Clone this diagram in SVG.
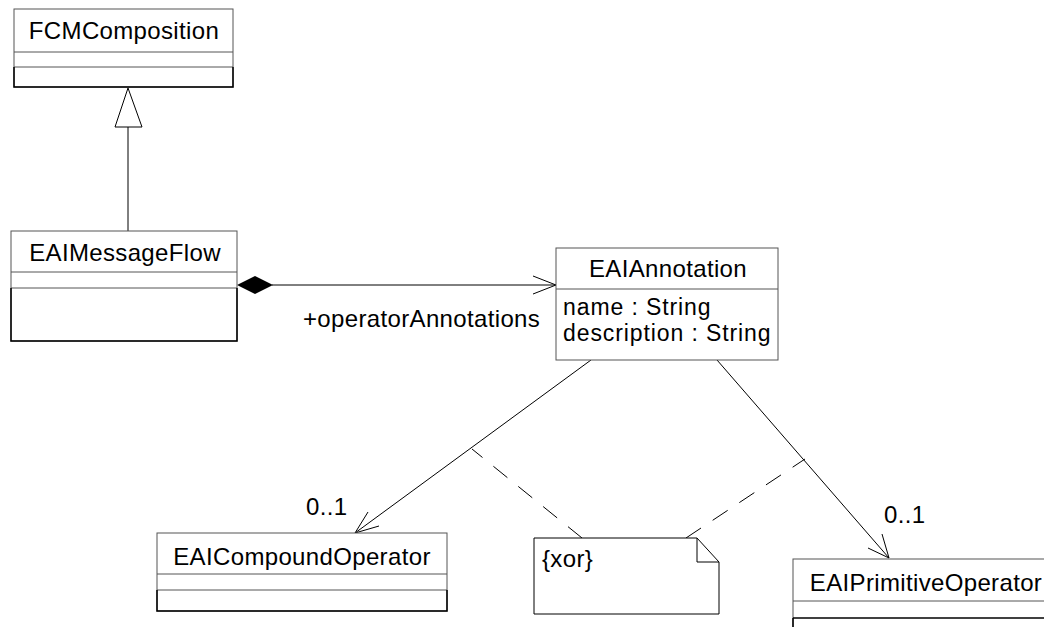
<svg xmlns="http://www.w3.org/2000/svg" width="1044" height="627" viewBox="0 0 1044 627">
  <style>
    .box { fill: #fff; stroke: #555; stroke-width: 1; }
    .edge { fill: none; stroke: #000; stroke-width: 1.5; }
    .div { stroke: #555; stroke-width: 1; }
    .lbl { font-family: "Liberation Sans", Arial, sans-serif; font-size: 24px; letter-spacing: 0.35px; fill: #000; }
    .attr { font-size: 23px; letter-spacing: 0.9px; }
    .mid { text-anchor: middle; }
    .line { fill: none; stroke: #000; stroke-width: 1; }
    .dash { fill: none; stroke: #000; stroke-width: 1; stroke-dasharray: 18 14; }
  </style>

  <rect width="1044" height="627" fill="#fff"/>

  <!-- connectors -->
  <g id="connectors">
    <!-- generalization EAIMessageFlow -> FCMComposition -->
    <line class="line" x1="128" y1="231" x2="128" y2="127"/>
    <polygon points="128,88 115,127 142,127" fill="#fff" stroke="#000" stroke-width="1"/>

    <!-- composition EAIMessageFlow -> EAIAnnotation -->
    <line class="line" x1="272" y1="285" x2="556" y2="285"/>
    <polygon points="237,285 255,276 273,285 255,294" fill="#000"/>
    <polyline class="line" points="533,276 556,285 533,294"/>
    <text class="lbl" x="303" y="327">+operatorAnnotations</text>

    <!-- EAIAnnotation -> EAICompoundOperator -->
    <line class="line" x1="591" y1="360" x2="355" y2="533"/>
    <polyline class="line" points="368,512 355,533 379,526"/>
    <text class="lbl" x="306" y="515">0..1</text>

    <!-- EAIAnnotation -> EAIPrimitiveOperator -->
    <line class="line" x1="717" y1="360" x2="889" y2="558"/>
    <polyline class="line" points="882,534 889,558 868,548"/>
    <text class="lbl" x="884" y="523">0..1</text>

    <!-- constraint note anchors -->
    <line class="dash" x1="582" y1="538" x2="472" y2="449"/>
    <line class="dash" x1="686" y1="538" x2="805" y2="459"/>
  </g>

  <!-- FCMComposition -->
  <g id="FCMComposition">
    <rect class="box" x="14" y="9" width="219" height="78"/>
    <line class="div" x1="14" y1="52" x2="233" y2="52"/>
    <line class="div" x1="14" y1="67" x2="233" y2="67"/>
    <polyline class="edge" points="14,67 14,87 233,87 233,67"/>
    <text class="lbl mid" x="124" y="39">FCMComposition</text>
  </g>

  <!-- EAIMessageFlow -->
  <g id="EAIMessageFlow">
    <rect class="box" x="11" y="231" width="226" height="110"/>
    <line class="div" x1="11" y1="272" x2="237" y2="272"/>
    <line class="div" x1="11" y1="288" x2="237" y2="288"/>
    <polyline class="edge" points="11,288 11,341 237,341 237,288"/>
    <text class="lbl mid" x="125" y="261">EAIMessageFlow</text>
  </g>

  <!-- EAIAnnotation -->
  <g id="EAIAnnotation">
    <rect class="box" x="556" y="248" width="222" height="112"/>
    <line class="div" x1="556" y1="289" x2="778" y2="289"/>
    <text class="lbl mid" x="668" y="277">EAIAnnotation</text>
    <text class="lbl attr" x="563" y="315">name : String</text>
    <text class="lbl attr" x="563" y="341">description : String</text>
  </g>

  <!-- EAICompoundOperator -->
  <g id="EAICompoundOperator">
    <rect class="box" x="157" y="533" width="290" height="78"/>
    <line class="div" x1="157" y1="574" x2="447" y2="574"/>
    <line class="div" x1="157" y1="590" x2="447" y2="590"/>
    <polyline class="edge" points="157,590 157,611 447,611 447,590"/>
    <text class="lbl mid" x="302" y="565">EAICompoundOperator</text>
  </g>

  <!-- xor constraint note -->
  <g id="xorNote">
    <polygon points="534,538 697,538 719,562 719,614 534,614" fill="#fff" stroke="#000" stroke-width="1"/>
    <polyline class="line" points="697,538 697,562 719,562"/>
    <text class="lbl" x="542" y="567">{xor}</text>
  </g>

  <!-- EAIPrimitiveOperator -->
  <g id="EAIPrimitiveOperator">
    <rect class="box" x="793" y="559" width="260" height="80"/>
    <line class="div" x1="793" y1="601" x2="1053" y2="601"/>
    <line class="edge" x1="793" y1="618" x2="1053" y2="618"/>
    <line class="edge" x1="793" y1="618" x2="793" y2="627"/>
    <text class="lbl mid" x="926" y="591">EAIPrimitiveOperator</text>
  </g>
</svg>
